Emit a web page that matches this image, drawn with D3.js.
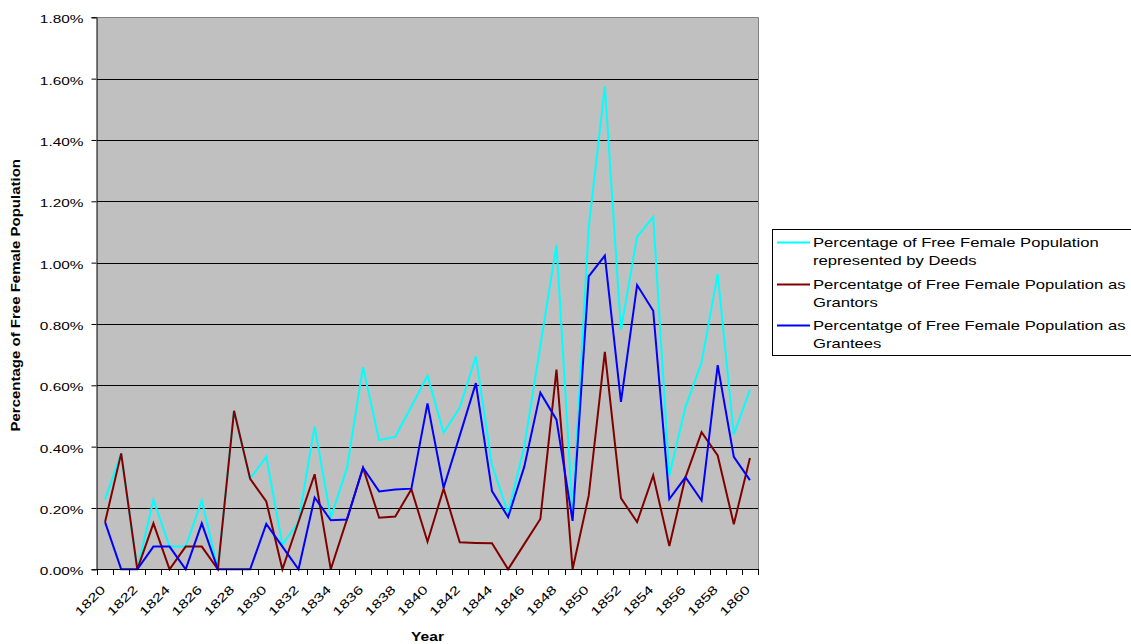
<!DOCTYPE html>
<html>
<head>
<meta charset="utf-8">
<script src="https://cdn.jsdelivr.net/npm/d3@7/dist/d3.min.js"></script>
<style>
  html, body { margin: 0; padding: 0; background: #ffffff; }
  svg { display: block; }
  text { font-family: "Liberation Sans", Arial, sans-serif; fill: #000; }
</style>
</head>
<body>
<svg id="chart" width="1131" height="644"></svg>
<script>
// Years along the category axis
const years = [1820, 1821, 1822, 1823, 1824, 1825, 1826, 1827, 1828, 1829,
               1830, 1831, 1832, 1833, 1834, 1835, 1836, 1837, 1838, 1839,
               1840, 1841, 1842, 1843, 1844, 1845, 1846, 1847, 1848, 1849,
               1850, 1851, 1852, 1853, 1854, 1855, 1856, 1857, 1858, 1859, 1860];

// Percent of free female population (values in %)
const deeds = [0.228, 0.378, 0.000, 0.227, 0.074, 0.074, 0.224, 0.000, 0.517, 0.295,
               0.367, 0.080, 0.155, 0.466, 0.168, 0.329, 0.659, 0.421, 0.432, 0.531,
               0.631, 0.445, 0.527, 0.694, 0.339, 0.184, 0.399, 0.729, 1.058, 0.185,
               1.115, 1.575, 0.781, 1.084, 1.149, 0.306, 0.529, 0.674, 0.963, 0.440, 0.585];

const grantors = [0.154, 0.378, 0.000, 0.150, 0.000, 0.074, 0.074, 0.000, 0.517, 0.295,
                  0.221, 0.000, 0.155, 0.310, 0.000, 0.162, 0.331, 0.168, 0.172, 0.261,
                  0.090, 0.263, 0.088, 0.086, 0.085, 0.000, 0.082, 0.164, 0.651, 0.000,
                  0.240, 0.709, 0.232, 0.154, 0.306, 0.076, 0.300, 0.447, 0.371, 0.147, 0.363];

const grantees = [0.154, 0.000, 0.000, 0.074, 0.074, 0.000, 0.150, 0.000, 0.000, 0.000,
                  0.148, 0.074, 0.000, 0.234, 0.160, 0.162, 0.331, 0.254, 0.260, 0.263,
                  0.541, 0.266, 0.436, 0.607, 0.255, 0.170, 0.334, 0.576, 0.488, 0.158,
                  0.955, 1.023, 0.546, 0.927, 0.843, 0.229, 0.300, 0.224, 0.666, 0.367, 0.291];

const seriesNames = [
  ["Percentage of Free Female Population", "represented by Deeds"],
  ["Percentatge of Free Female Population as", "Grantors"],
  ["Percentatge of Free Female Population as", "Grantees"]
];
const seriesColors = ["#00FFFF", "#800000", "#0000FF"];

const yTicks = [0, 0.2, 0.4, 0.6, 0.8, 1.0, 1.2, 1.4, 1.6, 1.8];
const xTickLabels = years.filter((d, i) => i % 2 === 0);

const svg = d3.select("#chart");
const plot = { left: 97, right: 758, top: 17.3, bottom: 569.3 };

const x = d3.scaleBand().domain(years).range([plot.left, plot.right]).padding(0);
const y = d3.scaleLinear().domain([0, 1.8]).range([plot.bottom, plot.top]);
const cx = d => x(d) + x.bandwidth() / 2;

// Plot area background
svg.append("rect")
  .attr("x", plot.left).attr("y", plot.top)
  .attr("width", plot.right - plot.left).attr("height", plot.bottom - plot.top)
  .attr("fill", "#C0C0C0");

// Horizontal gridlines
svg.append("g")
  .selectAll("line")
  .data(yTicks.filter(v => v > 0 && v < 1.8))
  .join("line")
  .attr("x1", plot.left).attr("x2", plot.right)
  .attr("y1", d => Math.round(y(d)) + 0.5).attr("y2", d => Math.round(y(d)) + 0.5)
  .attr("stroke", "#000").attr("stroke-width", 1);

// Plot border (top and right)
svg.append("path")
  .attr("d", `M${plot.left},${Math.round(plot.top) + 0.5}H${Math.round(plot.right) + 0.5}V${plot.bottom}`)
  .attr("fill", "none").attr("stroke", "#808080").attr("stroke-width", 1);

// Series lines
const line = d3.line().x((d, i) => cx(years[i])).y(d => y(d));
[deeds, grantors, grantees].forEach((vals, k) => {
  svg.append("path")
    .datum(vals)
    .attr("d", line)
    .attr("fill", "none")
    .attr("stroke", seriesColors[k])
    .attr("stroke-width", 2)
    .attr("stroke-linejoin", "miter");
});

// Y axis
const yAxis = svg.append("g")
  .attr("transform", `translate(${plot.left - 0.5},0)`)
  .call(d3.axisLeft(y).tickValues(yTicks).tickSize(5).tickPadding(8)
        .tickFormat(d => d.toFixed(2) + "%"));
yAxis.select(".domain").attr("stroke", "#000");
yAxis.selectAll(".tick line").attr("stroke", "#000");
yAxis.selectAll(".tick text")
  .attr("x", 0).attr("dy", "0.32em")
  .attr("transform", "translate(-13,2) scale(1.4,1)")
  .style("font-size", "11px").style("font-family", "Liberation Sans, Arial, sans-serif");

// X axis with a tick at every category boundary
const xAxisG = svg.append("g");
xAxisG.append("line")
  .attr("x1", plot.left - 0.5).attr("x2", plot.right)
  .attr("y1", Math.round(plot.bottom) + 0.5).attr("y2", Math.round(plot.bottom) + 0.5)
  .attr("stroke", "#000");
const bounds = years.map(d => x(d)).concat([x(years[years.length - 1]) + x.bandwidth()]);
xAxisG.selectAll("line.tk")
  .data(bounds)
  .join("line")
  .attr("class", "tk")
  .attr("x1", d => Math.round(d) + 0.5).attr("x2", d => Math.round(d) + 0.5)
  .attr("y1", Math.round(plot.bottom)).attr("y2", Math.round(plot.bottom) + 6)
  .attr("stroke", "#000");
xAxisG.selectAll("text")
  .data(xTickLabels)
  .join("text")
  .attr("transform", d => `translate(${cx(d) + 1},${plot.bottom + 21}) rotate(-45) scale(1.4,1)`)
  .attr("text-anchor", "end")
  .style("font-size", "12px")
  .text(d => d);

// Axis titles
svg.append("text")
  .attr("transform", `translate(${(plot.left + plot.right) / 2},${641}) scale(1.3,1)`)
  .attr("text-anchor", "middle")
  .style("font-size", "12px").style("font-weight", "bold")
  .text("Year");
svg.append("text")
  .attr("transform", `translate(${20},${(plot.top + plot.bottom) / 2 + 2}) rotate(-90) scale(1.25,1)`)
  .attr("text-anchor", "middle")
  .style("font-size", "12px").style("font-weight", "bold")
  .text("Percentage of Free Female Population");

// Legend
const legend = svg.append("g");
legend.append("rect")
  .attr("x", 772.5).attr("y", 229.5).attr("width", 400).attr("height", 126)
  .attr("fill", "#fff").attr("stroke", "#000");
const legendY = [242, 284, 325];
seriesNames.forEach((lines, k) => {
  legend.append("line")
    .attr("x1", 777).attr("x2", 810)
    .attr("y1", legendY[k] + 0.5).attr("y2", legendY[k] + 0.5)
    .attr("stroke", seriesColors[k]).attr("stroke-width", 2);
  lines.forEach((t, j) => {
    legend.append("text")
      .attr("transform", `translate(813,${legendY[k] + 5 + j * 18}) scale(1.28,1)`)
      .style("font-size", "13px")
      .text(t);
  });
});
</script>
</body>
</html>
